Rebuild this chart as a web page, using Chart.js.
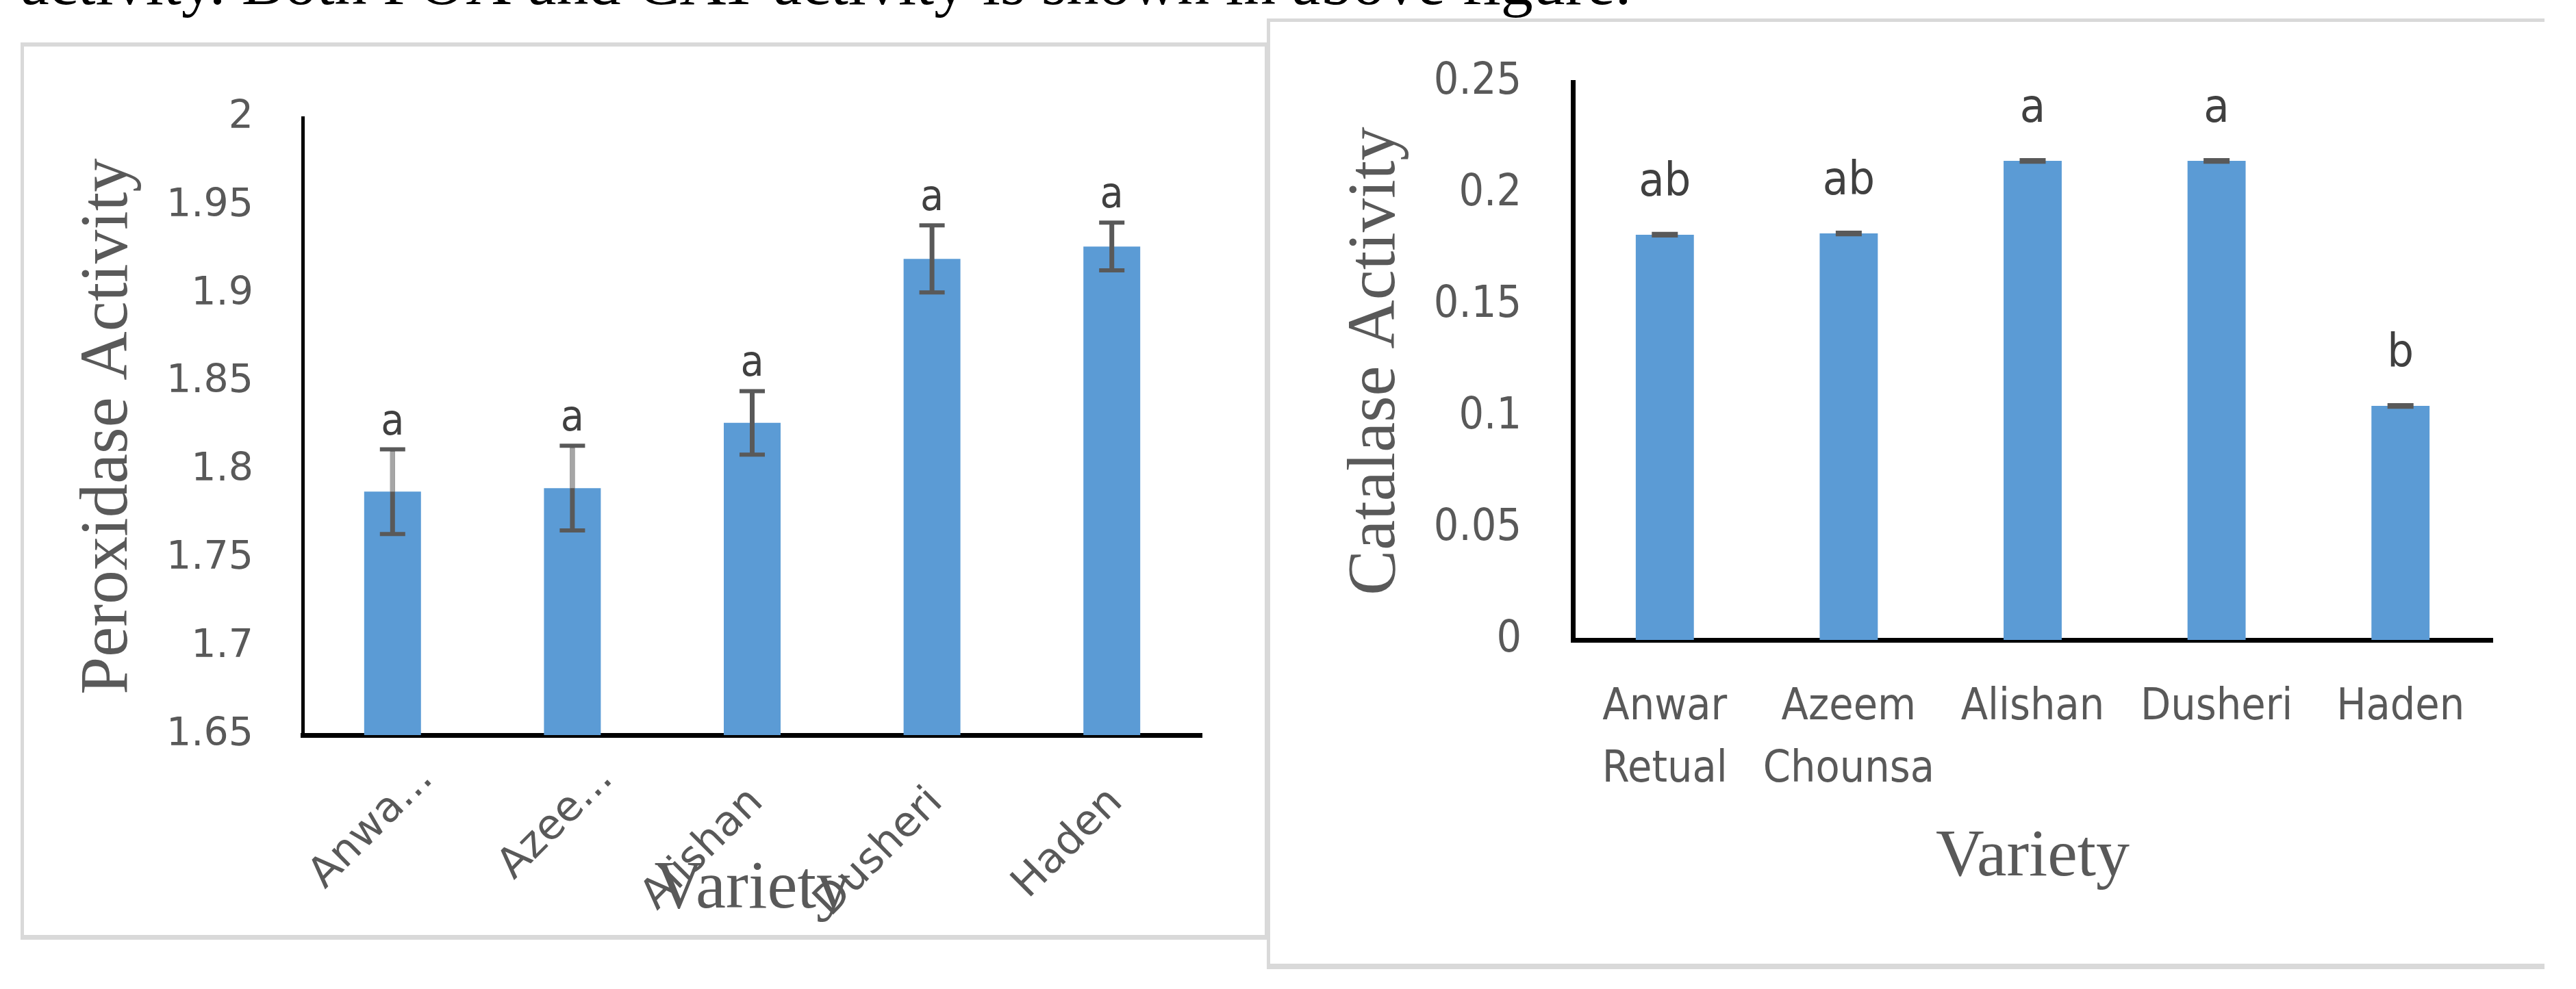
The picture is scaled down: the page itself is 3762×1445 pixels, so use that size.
<!DOCTYPE html>
<html>
<head>
<meta charset="utf-8">
<script src="https://cdn.jsdelivr.net/npm/chart.js@4.4.1/dist/chart.umd.min.js"></script>
<style>
  html, body { margin: 0; padding: 0; background: #fff; }
  body { width: 3762px; height: 1445px; position: relative; overflow: hidden; }
  .caption {
    position: absolute; left: 30px; top: -73px; margin: 0;
    font: 94px/1 "Liberation Serif", "DejaVu Serif", serif; color: #000; white-space: nowrap;
  }
  .panel { position: absolute; background: #fff; box-sizing: border-box; border-color: #d9d9d9; border-style: solid; }
  #leftPanel { left: 30px; top: 62px; width: 1822px; height: 1311px; border-width: 6px 5px 7px 5px; }
  #rightPanel { left: 1850px; top: 27px; width: 1866px; height: 1389px; border-width: 5px 0 8px 5px; }
  canvas { display: block; }
</style>
</head>
<body>
<p class="caption">activity. Both POX and CAT activity is shown in above figure.</p>
<div class="panel" id="leftPanel"><canvas id="poxChart" width="1812" height="1298"></canvas></div>
<div class="panel" id="rightPanel"><canvas id="catChart" width="1861" height="1376"></canvas></div>
<script>
// mango varieties
const varieties = ["Anwar Retual", "Azeem Chounsa", "Alishan", "Dusheri", "Haden"];

// peroxidase (left chart)
const poxTickLabels = ["Anwa...", "Azee...", "Alishan", "Dusheri", "Haden"];
const poxValues = [1.788, 1.790, 1.827, 1.920, 1.927];
const poxErrors = [0.024, 0.024, 0.018, 0.019, 0.0135];
const poxLetters = ["a", "a", "a", "a", "a"];
const poxYLabels = ["1.65", "1.7", "1.75", "1.8", "1.85", "1.9", "1.95", "2"];

// catalase (right chart)
const catTickLabels = [["Anwar", "Retual"], ["Azeem", "Chounsa"], "Alishan", "Dusheri", "Haden"];
const catValues = [0.1816, 0.1822, 0.2147, 0.2147, 0.1049];
const catErrors = [0.0005, 0.0005, 0.0005, 0.0005, 0.0005];
const catLetters = ["ab", "ab", "a", "a", "b"];
const catYLabels = ["0", "0.05", "0.1", "0.15", "0.2", "0.25"];

const BLUE = "#5b9bd5";
const GREY = "#595959";
const SERIF = '"Liberation Serif", "Times New Roman", serif';
const NARROW = '"DejaVu Sans Condensed", "Liberation Sans Narrow", sans-serif';

// error bars + significance letters, drawn from the y scale
const errorBars = {
  id: "errorBars",
  afterDatasetsDraw(chart, args, opts) {
    const ctx = chart.ctx;
    const y = chart.scales.y;
    const ds = chart.data.datasets[0].data;
    ctx.save();
    chart.getDatasetMeta(0).data.forEach((bar, i) => {
      const v = ds[i], e = opts.errors[i];
      const top = y.getPixelForValue(v + e);
      const bot = y.getPixelForValue(v - e);
      const mid = y.getPixelForValue(v);
      ctx.strokeStyle = opts.color;
      ctx.lineWidth = opts.stemWidth;
      ctx.beginPath();
      ctx.moveTo(bar.x, bot);
      ctx.lineTo(bar.x, top);
      ctx.stroke();
      if (opts.stemAbove && opts.stemAbove[i]) {
        ctx.strokeStyle = opts.stemAbove[i];
        ctx.beginPath();
        ctx.moveTo(bar.x, mid);
        ctx.lineTo(bar.x, top + opts.capWidth / 2);
        ctx.stroke();
      }
      ctx.strokeStyle = opts.color;
      ctx.lineWidth = opts.capWidth;
      ctx.beginPath();
      ctx.moveTo(bar.x - opts.capLen / 2, top);
      ctx.lineTo(bar.x + opts.capLen / 2, top);
      ctx.moveTo(bar.x - opts.capLen / 2, bot);
      ctx.lineTo(bar.x + opts.capLen / 2, bot);
      ctx.stroke();

      ctx.fillStyle = opts.letterColor;
      ctx.font = opts.letterFont;
      ctx.textAlign = "center";
      ctx.textBaseline = "alphabetic";
      ctx.fillText(opts.letters[i], bar.x, top - opts.letterGap);
    });
    ctx.restore();
  }
};

// Excel-style 45 degree category labels (truncated names sit further up the slant)
const slantLabels = {
  id: "slantLabels",
  afterDraw(chart, args, opts) {
    if (!opts.enabled) return;
    const ctx = chart.ctx;
    const x = chart.scales.x;
    ctx.save();
    ctx.fillStyle = GREY;
    ctx.font = opts.font;
    ctx.textAlign = "right";
    ctx.textBaseline = "alphabetic";
    chart.data.labels.forEach((lab, i) => {
      const [dx, dy] = lab.endsWith("...") ? opts.truncOffset : opts.offset;
      ctx.save();
      ctx.translate(x.getPixelForTick(i) + dx, x.top + dy);
      ctx.rotate(-Math.PI / 4);
      ctx.fillText(lab, 0, 0);
      ctx.restore();
    });
    ctx.restore();
  }
};

function barChart(id, cfg) {
  return new Chart(document.getElementById(id), {
    type: "bar",
    data: {
      labels: cfg.tickLabels,
      datasets: [{
        label: cfg.yTitle,
        data: cfg.values,
        backgroundColor: BLUE,
        borderWidth: 0,
        categoryPercentage: 1,
        barPercentage: 0.316
      }]
    },
    options: {
      responsive: false,
      animation: false,
      layout: { padding: cfg.padding },
      plugins: {
        legend: { display: false },
        tooltip: { enabled: false },
        errorBars: cfg.err,
        slantLabels: cfg.slant || { enabled: false }
      },
      scales: {
        x: {
          grid: { display: false, drawTicks: false },
          border: { display: true, color: "#000", width: cfg.xBorder },
          ticks: cfg.xTicks,
          title: {
            display: true, text: "Variety", color: GREY,
            font: { family: SERIF, size: cfg.xTitleSize },
            padding: { top: 0, bottom: cfg.xTitlePad }
          },
          afterFit: s => { s.height = cfg.xHeight; }
        },
        y: {
          min: cfg.yMin, max: cfg.yMax,
          grid: { display: false, drawTicks: false },
          border: { display: true, color: "#000", width: cfg.yBorder },
          ticks: {
            stepSize: cfg.yStep, color: GREY, padding: cfg.yTickPad,
            font: cfg.yTickFont,
            callback: (v, i) => cfg.yLabels[i]
          },
          title: {
            display: true, text: cfg.yTitle, color: GREY,
            font: { family: SERIF, size: 99 },
            padding: { top: cfg.yTitlePad, bottom: 0 }
          },
          // fixed axis width; the tick padding must not push the plot down
          afterFit: s => { s.width = cfg.yWidth; s.paddingTop = 0; s.paddingBottom = 0; }
        }
      }
    },
    plugins: [errorBars, slantLabels]
  });
}

barChart("poxChart", {
  tickLabels: poxTickLabels, values: poxValues, yLabels: poxYLabels,
  yTitle: "Peroxidase Activity", yMin: 1.65, yMax: 2, yStep: 0.05,
  padding: { left: 0, top: 104, right: 92, bottom: 0 },
  xHeight: 292, yWidth: 407, xBorder: 7, yBorder: 5,
  yTickPad: 72, yTitlePad: 65, xTitleSize: 99, xTitlePad: 7,
  yTickFont: { family: '"DejaVu Sans", sans-serif', size: 57 },
  xTicks: { display: false },
  slant: {
    enabled: true, font: '61px "DejaVu Sans", sans-serif',
    offset: [18, 100], truncOffset: [61, 66]
  },
  err: {
    errors: poxErrors, letters: poxLetters, color: GREY,
    stemWidth: 7, capWidth: 6, capLen: 37,
    stemAbove: ["#a6a6a6", "#a6a6a6", null, null, null],
    letterColor: "#404040", letterFont: "62px " + NARROW, letterGap: 22
  }
});

barChart("catChart", {
  tickLabels: catTickLabels, values: catValues, yLabels: catYLabels,
  yTitle: "Catalase Activity", yMin: 0, yMax: 0.25, yStep: 0.05,
  padding: { left: 0, top: 88, right: 76, bottom: 0 },
  xHeight: 473, yWidth: 442, xBorder: 7, yBorder: 7,
  yTickPad: 75, yTitlePad: 96, xTitleSize: 98, xTitlePad: 96,
  yTickFont: { family: NARROW, size: 64 },
  xTicks: {
    color: GREY, maxRotation: 0, autoSkip: false, padding: 54,
    font: { family: NARROW, size: 64, lineHeight: 1.42 }
  },
  err: {
    errors: catErrors, letters: catLetters, color: GREY,
    stemWidth: 5, capWidth: 5, capLen: 38, stemAbove: null,
    letterColor: "#404040", letterFont: "68px " + NARROW, letterGap: 55
  }
});
</script>
</body>
</html>
